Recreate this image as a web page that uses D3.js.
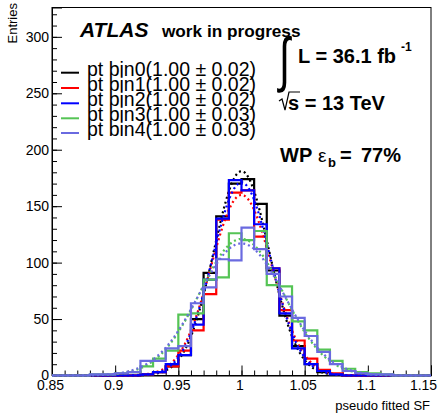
<!DOCTYPE html>
<html><head><meta charset="utf-8">
<script src="https://cdn.jsdelivr.net/npm/d3@7"></script>
<style>
body{margin:0;background:#fff}
svg{display:block}
text{font-family:"Liberation Sans",Arial,Helvetica,sans-serif}
</style>
</head><body>
<svg id="chart" width="445" height="414"></svg>
<script>
// ---------------- data ----------------
const binEdges = [0.85,0.86,0.87,0.88,0.89,0.90,0.91,0.92,0.93,0.94,0.95,0.96,0.97,0.98,0.99,1.00,
                  1.01,1.02,1.03,1.04,1.05,1.06,1.07,1.08,1.09,1.10,1.11,1.12,1.13,1.14,1.15];
const bin0 = [0,0,0,0,0,0,0,1,3,8,18,50,91,141,170,174,152,93,53,26,10,3,1,0,0,0,0,0,0,0];
const bin1 = [0,0,0,0,0,0,0,1,3,8,22,40,72,138,162,164,123,95,58,31,15,5,2,0,0,0,0,0,0,0];
const bin2 = [0,0,0,0,0,0,0,1,3,10,18,45,85,139,173,164,134,95,55,24,10,4,1,0,0,0,0,0,0,0];
const bin3 = [0,0,0,1,1,2,3,8,15,22,54,55,85,87,126,120,128,80,79,48,40,23,13,6,3,2,1,0,0,0];
const bin4 = [0,0,0,1,1,2,3,13,13,24,26,64,78,103,102,131,112,90,70,51,35,21,10,4,2,1,1,0,0,0];
const legendLabels = ["pt bin0(1.00 \u00b1 0.02)","pt bin1(1.00 \u00b1 0.02)","pt bin2(1.00 \u00b1 0.02)",
                      "pt bin3(1.00 \u00b1 0.03)","pt bin4(1.00 \u00b1 0.03)"];
const seriesColors = ["#000000","#ff0000","#0000ff","#55c455","#6a6ae0"];
// gaussian fit parameters (amplitude, mean, sigma)
const fitAmp   = [181,160,171,121,117];
const fitMean  = [1.0,1.0,1.0,1.0,1.0];
const fitSigma = [0.022,0.024,0.023,0.033,0.034];
const yMajorTicks = [0,50,100,150,200,250,300];
const xMajorTicks = [0.85,0.9,0.95,1.0,1.05,1.1,1.15];
const xTickLabels = ["0.85","0.9","0.95","1","1.05","1.1","1.15"];

const series = [bin0,bin1,bin2,bin3,bin4];

// ---------------- layout ----------------
const svg = d3.select("#chart");
const L = 52, R = 431, T = 7.5, B = 375.5;
const x = d3.scaleLinear().domain([0.85,1.15]).range([L,R]);
const y = d3.scaleLinear().domain([0,326]).range([B,T]);

// frame
svg.append("rect").attr("x",L).attr("y",T).attr("width",R-L).attr("height",B-T)
  .attr("fill","none").attr("stroke","#000").attr("stroke-width",1);

// axes
const yMinor = d3.range(0,330,10);
svg.append("g").attr("transform",`translate(${L},0)`)
  .call(d3.axisLeft(y).tickValues(yMinor).tickSize(-5).tickFormat(""))
  .call(g=>g.select(".domain").remove());
svg.append("g").attr("transform",`translate(${L},0)`)
  .call(d3.axisLeft(y).tickValues(yMajorTicks).tickSize(-10).tickPadding(3).tickFormat(d3.format("d")))
  .call(g=>g.select(".domain").attr("stroke","#000"))
  .call(g=>g.selectAll("text").attr("font-size",14).attr("fill","#000")
        .attr("font-family","Liberation Sans, Arial, sans-serif"));

const xMinor = binEdges;
svg.append("g").attr("transform",`translate(0,${B})`)
  .call(d3.axisBottom(x).tickValues(xMinor).tickSize(-5).tickFormat(""))
  .call(g=>g.select(".domain").remove());
svg.append("g").attr("transform",`translate(0,${B})`)
  .call(d3.axisBottom(x).tickValues(xMajorTicks).tickSize(-10).tickPadding(5)
        .tickFormat((d,i)=>xTickLabels[i]))
  .call(g=>g.select(".domain").attr("stroke","#000"))
  .call(g=>g.selectAll("text").attr("font-size",14).attr("fill","#000")
        .attr("font-family","Liberation Sans, Arial, sans-serif")
        .attr("dx",(d,i)=> i===xMajorTicks.length-1 ? -8 : -2));

// axis titles
svg.append("text").attr("x",430).attr("y",410).attr("text-anchor","end")
  .attr("font-size",13).text("pseudo fitted SF");
svg.append("text").attr("transform","translate(17,3) rotate(-90)").attr("text-anchor","end")
  .attr("font-size",13).text("Entries");

// histograms + fits
const line = d3.line().x(d=>x(d[0])).y(d=>y(d[1]));
series.forEach((vals,k)=>{
  const pts = [[binEdges[0],0]];
  vals.forEach((v,i)=>{ pts.push([binEdges[i],v]); pts.push([binEdges[i+1],v]); });
  pts.push([binEdges[binEdges.length-1],0]);
  svg.append("path").attr("d",line(pts)).attr("fill","none")
    .attr("stroke",seriesColors[k]).attr("stroke-width",2.2);
  const fx = d3.range(0.85,1.1501,0.001);
  const fpts = fx.map(t=>[t, fitAmp[k]*Math.exp(-0.5*Math.pow((t-fitMean[k])/fitSigma[k],2))]);
  svg.append("path").attr("d",line(fpts)).attr("fill","none")
    .attr("stroke",seriesColors[k]).attr("stroke-width",2.2).attr("stroke-dasharray","2,3");
});

// legend
const legY = [72.7,88,103.3,118.3,133];
legendLabels.forEach((lab,k)=>{
  svg.append("line").attr("x1",61).attr("x2",79).attr("y1",legY[k]).attr("y2",legY[k])
    .attr("stroke",seriesColors[k]).attr("stroke-width",2);
  svg.append("text").attr("x",87).attr("y",legY[k]+3).attr("font-size",19.5).text(lab);
});

// ATLAS label
svg.append("text").attr("x",80).attr("y",37).attr("font-size",21).attr("font-weight","bold")
  .attr("font-style","italic").text("ATLAS");
svg.append("text").attr("x",162).attr("y",37).attr("font-size",17.2).attr("font-weight","bold")
  .text("work in progress");

// luminosity
svg.append("text").attr("transform","translate(279,80) scale(1,1.5)").attr("font-size",40)
  .attr("font-family","DejaVu Sans").text("\u222b");
svg.append("text").attr("x",298).attr("y",63).attr("font-size",20).attr("font-weight","bold").text("L = 36.1 fb");
svg.append("text").attr("x",401).attr("y",51).attr("font-size",12).attr("font-weight","bold").text("-1");
// sqrt s
svg.append("path").attr("d","M279,101 L282,99 L285,110 L289,92 L300,92").attr("fill","none")
  .attr("stroke","#000").attr("stroke-width",1.2);
svg.append("text").attr("x",288).attr("y",110).attr("font-size",20).attr("font-weight","bold").text("s = 13 TeV");
// WP
svg.append("text").attr("x",280).attr("y",162).attr("font-size",20).attr("font-weight","bold").text("WP");
svg.append("text").attr("x",318).attr("y",162).attr("font-size",19).text("\u03b5");
svg.append("text").attr("x",328).attr("y",167).attr("font-size",13).attr("font-weight","bold").text("b");
svg.append("text").attr("x",340).attr("y",162).attr("font-size",20).attr("font-weight","bold").text("=");
svg.append("text").attr("x",361).attr("y",162).attr("font-size",20).attr("font-weight","bold").text("77%");
</script>
</body></html>
